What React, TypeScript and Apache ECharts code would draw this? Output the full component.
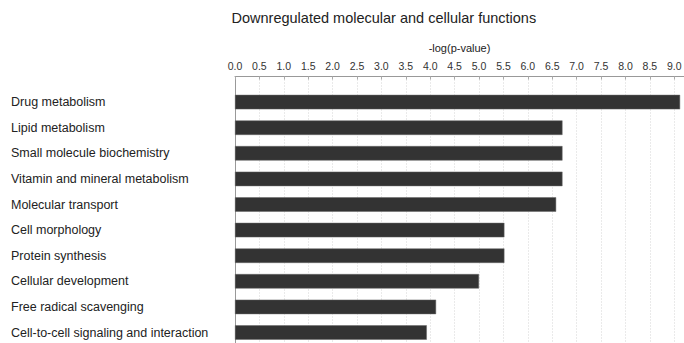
import React, { useEffect, useRef } from "react";
import * as echarts from "echarts";

const categories = [
  "Drug metabolism",
  "Lipid metabolism",
  "Small molecule biochemistry",
  "Vitamin and mineral metabolism",
  "Molecular transport",
  "Cell morphology",
  "Protein synthesis",
  "Cellular development",
  "Free radical scavenging",
  "Cell-to-cell signaling and interaction",
];
const values = [9.12, 6.71, 6.71, 6.71, 6.58, 5.52, 5.52, 5.0, 4.12, 3.93];

const FONT = "'Liberation Sans', Arial, sans-serif";

export default function App() {
  const ref = useRef<HTMLDivElement>(null);
  useEffect(() => {
    if (!ref.current) return;
    const chart = echarts.init(ref.current, undefined, { renderer: "svg" });
    // padded category list: an empty slot above and below the real categories
    const cats = ["", ...categories, ""];
    const vals: (number | string)[] = ["-", ...values, "-"];
    const step = 25.6;
    const top = 76.5;
    const bottom = 343 - (top + step * (cats.length - 1));
    chart.setOption({
      animation: false,
      backgroundColor: "#ffffff",
      title: {
        text: "Downregulated molecular and cellular functions",
        left: 231.5,
        top: 10,
        padding: 0,
        textStyle: { fontFamily: FONT, fontSize: 14.5, fontWeight: "normal", color: "#222" },
      },
      grid: {
        left: 235,
        right: 0,
        top: top,
        bottom: bottom,
        containLabel: false,
        outerBoundsMode: "none",
      },
      xAxis: {
        type: "value",
        position: "top",
        min: 0,
        max: 9.2,
        interval: 0.5,
        name: "-log(p-value)",
        nameLocation: "middle",
        nameGap: 23.5,
        nameTextStyle: { fontFamily: FONT, fontSize: 11, color: "#222" },
        axisLine: { show: true, lineStyle: { color: "#999", width: 1 } },
        axisTick: { show: true, inside: true, length: 3, lineStyle: { color: "#aaa" } },
        axisLabel: {
          fontFamily: FONT,
          fontSize: 10.5,
          color: "#333",
          margin: 5,
          showMaxLabel: false,
          formatter: (v: number) => v.toFixed(1),
        },
        splitLine: { show: true, lineStyle: { color: "#d4d4d4", type: [1, 2], width: 1 } },
      },
      yAxis: {
        type: "category",
        inverse: true,
        boundaryGap: false,
        data: cats,
        axisLine: { show: true, lineStyle: { color: "#999" } },
        axisTick: { show: false },
        axisLabel: {
          align: "left",
          margin: 224,
          fontFamily: FONT,
          fontSize: 12.5,
          color: "#222",
          interval: 0,
        },
      },
      series: [
        {
          type: "bar",
          data: vals,
          barWidth: 14.5,
          clip: false,
          itemStyle: { color: "#333333", borderColor: "#666", borderWidth: 0.5 },
        },
      ],
    });
    return () => chart.dispose();
  }, []);
  return (
    <div
      ref={ref}
      style={{ position: "fixed", left: 0, top: 0, width: 684, height: 343 }}
    />
  );
}
